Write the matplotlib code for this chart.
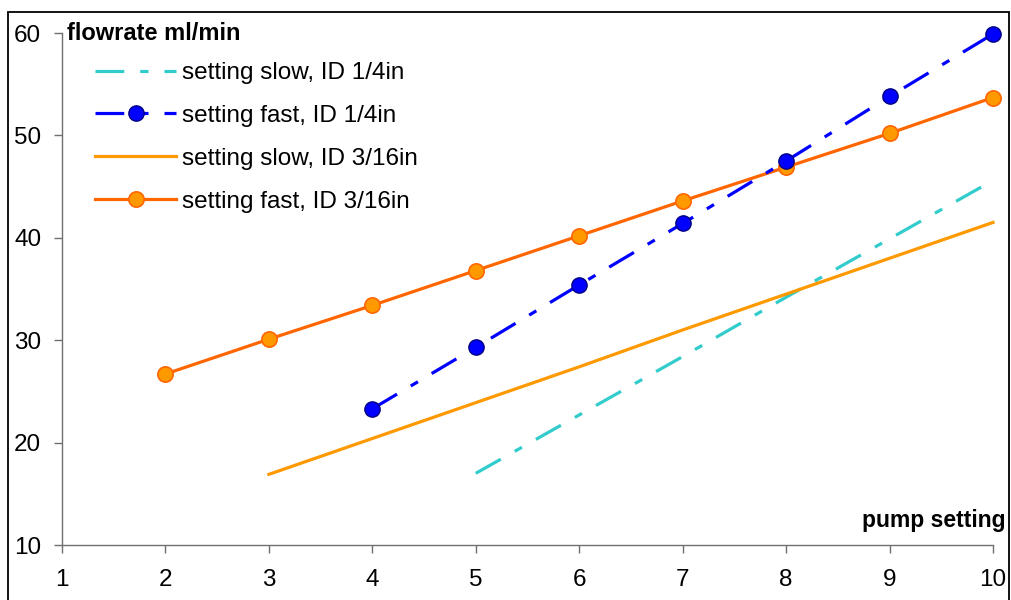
import matplotlib
matplotlib.use("Agg")
import matplotlib.pyplot as plt
from matplotlib.patches import Rectangle

plt.rcParams['font.family'] = ['Liberation Sans', 'DejaVu Sans']

# pump settings and measured flow rates (ml/min)
x_slow_quarter = [5, 6, 7, 8, 9, 10]
y_slow_quarter = [17.0, 22.7, 28.4, 34.2, 39.9, 45.6]

x_fast_quarter = [4, 5, 6, 7, 8, 9, 10]
y_fast_quarter = [23.3, 29.3, 35.4, 41.4, 47.5, 53.8, 59.9]

x_slow_316 = [3, 4, 5, 6, 7, 8, 9, 10]
y_slow_316 = [16.9, 20.4, 23.9, 27.4, 31.0, 34.5, 38.0, 41.5]

x_fast_316 = [2, 3, 4, 5, 6, 7, 8, 9, 10]
y_fast_316 = [26.7, 30.1, 33.4, 36.8, 40.2, 43.6, 46.9, 50.2, 53.7]

labels = ["setting slow, ID 1/4in", "setting fast, ID 1/4in",
          "setting slow, ID 3/16in", "setting fast, ID 3/16in"]
x_ticks = list(range(1, 11))
y_ticks = [10, 20, 30, 40, 50, 60]

W, H = 1011, 600
fig = plt.figure(figsize=(W / 100, H / 100), dpi=100)
fig.patch.set_facecolor("white")

# outer frame around the chart
fig.patches.append(Rectangle((8 / W, -0.05), (1009 - 8) / W, 1.05 - 12 / H,
                             transform=fig.transFigure, fill=False,
                             edgecolor="black", linewidth=1.3))

ax = fig.add_axes([62 / W, 1 - 545 / H, (993 - 62) / W, (545 - 33) / H])
ax.set_xlim(1, 10)
ax.set_ylim(10, 60)

lw = 2.3
ax.plot(x_slow_quarter, y_slow_quarter, color="#33CCCC", lw=lw,
        dashes=(9, 5, 2.6, 5), label=labels[0], clip_on=False)
ax.plot(x_fast_quarter, y_fast_quarter, color="#0000FF", lw=lw,
        dashes=(9, 5, 2.6, 5), marker="o", markersize=11,
        markerfacecolor="#0000FF", markeredgecolor="#000080",
        markeredgewidth=1.0, label=labels[1], clip_on=False, zorder=4)
ax.plot(x_slow_316, y_slow_316, color="#FF9900", lw=lw,
        label=labels[2], clip_on=False)
ax.plot(x_fast_316, y_fast_316, color="#FF6600", lw=lw, marker="o",
        markersize=11, markerfacecolor="#FF9900", markeredgecolor="#FF6600",
        markeredgewidth=1.2, label=labels[3], clip_on=False, zorder=3)

for s in ("top", "right"):
    ax.spines[s].set_visible(False)
for s in ("left", "bottom"):
    ax.spines[s].set_color("#707070")
    ax.spines[s].set_linewidth(1.0)

ax.set_xticks(x_ticks)
ax.set_yticks(y_ticks)
ax.tick_params(axis="both", direction="out", length=6, width=1.0,
               color="#707070", labelsize=17.5, labelcolor="black")
ax.tick_params(axis="y", pad=9)
ax.tick_params(axis="x", pad=11)

ax.text(67 / W, 1 - 33 / H, "flowrate ml/min", transform=fig.transFigure,
        fontsize=17, fontweight="bold", ha="left", va="center")
ax.text(1006 / W, 1 - 520 / H, "pump setting", transform=fig.transFigure,
        fontsize=16.5, fontweight="bold", ha="right", va="center")

leg = ax.legend(loc="upper left", bbox_to_anchor=(95 / W, 1 - 62 / H),
                bbox_transform=fig.transFigure, frameon=False, fontsize=17.5,
                handlelength=3.35, handletextpad=0.25, labelspacing=0.86,
                borderaxespad=0, borderpad=0)

fig.savefig("out.png", dpi=100, facecolor="white")
